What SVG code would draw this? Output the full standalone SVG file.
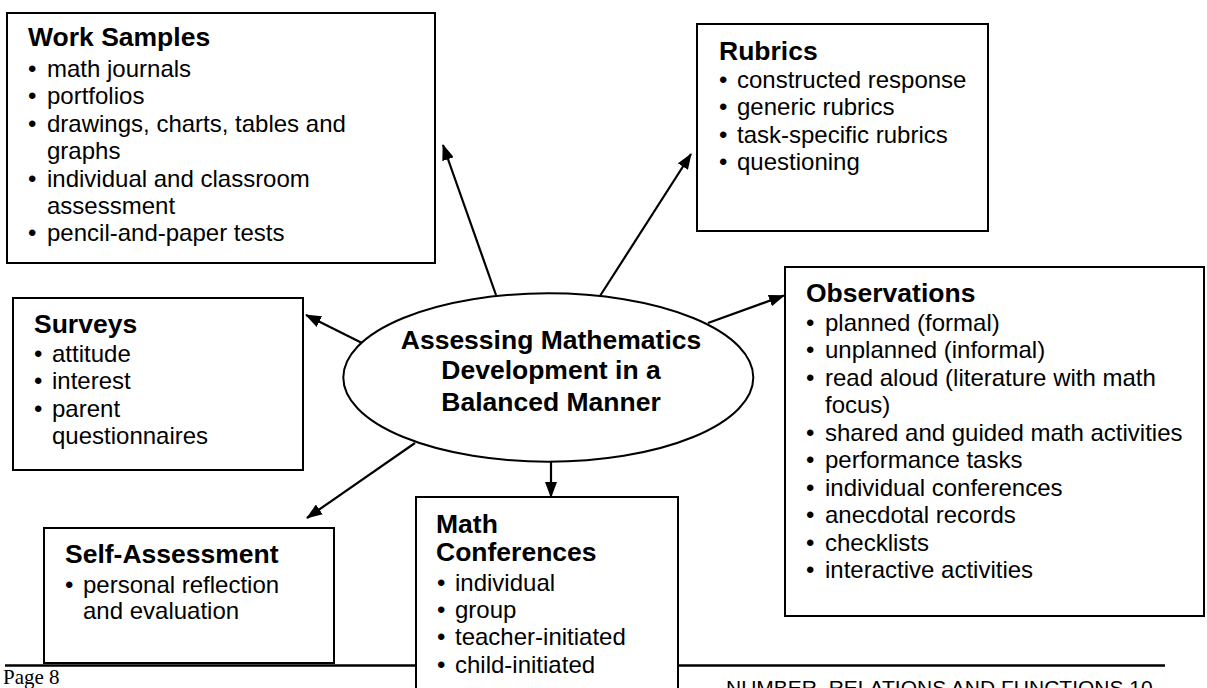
<svg xmlns="http://www.w3.org/2000/svg" width="1207" height="688" viewBox="0 0 1207 688">
<style>
.box{fill:#fff;stroke:#000;stroke-width:2}
.t{font-family:"Liberation Sans",Arial,sans-serif;font-size:24px;fill:#000}
.h{font-family:"Liberation Sans",Arial,sans-serif;font-size:26.5px;font-weight:bold;fill:#000}
.c{text-anchor:middle}
.con line{stroke:#000;stroke-width:2.2;marker-end:url(#ah)}
.foot{stroke:#000;stroke-width:2.5}
</style>
<defs>
<marker id="ah" markerUnits="userSpaceOnUse" markerWidth="16" markerHeight="12" refX="15" refY="6" orient="auto">
<path d="M0,0 L16,6 L0,12 z" fill="#000"/>
</marker>
</defs>
<rect width="1207" height="688" fill="#fff"/>

<g id="work-samples">
<rect class="box" x="7" y="13" width="428" height="250"/>
<text class="h" x="28" y="46">Work Samples</text>
<g class="t">
<text x="28" y="77">•</text><text x="47" y="77">math journals</text>
<text x="28" y="104.4">•</text><text x="47" y="104.4">portfolios</text>
<text x="28" y="131.8">•</text><text x="47" y="131.8">drawings, charts, tables and</text>
<text x="47" y="159.2">graphs</text>
<text x="28" y="186.6">•</text><text x="47" y="186.6">individual and classroom</text>
<text x="47" y="214">assessment</text>
<text x="28" y="241.4">•</text><text x="47" y="241.4">pencil-and-paper tests</text>
</g>
</g>

<g id="rubrics">
<rect class="box" x="697" y="24" width="291" height="207"/>
<text class="h" x="719" y="60">Rubrics</text>
<g class="t">
<text x="719" y="88">•</text><text x="737" y="88">constructed response</text>
<text x="719" y="115.4">•</text><text x="737" y="115.4">generic rubrics</text>
<text x="719" y="142.8">•</text><text x="737" y="142.8">task-specific rubrics</text>
<text x="719" y="170.2">•</text><text x="737" y="170.2">questioning</text>
</g>
</g>

<g id="surveys">
<rect class="box" x="13" y="298" width="290" height="172"/>
<text class="h" x="34" y="333">Surveys</text>
<g class="t">
<text x="34" y="361.7">•</text><text x="52" y="361.7">attitude</text>
<text x="34" y="389.1">•</text><text x="52" y="389.1">interest</text>
<text x="34" y="416.5">•</text><text x="52" y="416.5">parent</text>
<text x="52" y="443.9">questionnaires</text>
</g>
</g>

<g id="observations">
<rect class="box" x="785" y="267" width="419" height="349"/>
<text class="h" x="806" y="302">Observations</text>
<g class="t">
<text x="806" y="330.5">•</text><text x="825" y="330.5">planned (formal)</text>
<text x="806" y="358">•</text><text x="825" y="358">unplanned (informal)</text>
<text x="806" y="385.5">•</text><text x="825" y="385.5">read aloud (literature with math</text>
<text x="825" y="413">focus)</text>
<text x="806" y="440.5">•</text><text x="825" y="440.5">shared and guided math activities</text>
<text x="806" y="468">•</text><text x="825" y="468">performance tasks</text>
<text x="806" y="495.5">•</text><text x="825" y="495.5">individual conferences</text>
<text x="806" y="523">•</text><text x="825" y="523">anecdotal records</text>
<text x="806" y="550.5">•</text><text x="825" y="550.5">checklists</text>
<text x="806" y="578">•</text><text x="825" y="578">interactive activities</text>
</g>
</g>

<g id="self-assessment">
<rect class="box" x="44" y="528" width="290" height="135"/>
<text class="h" x="65" y="563">Self-Assessment</text>
<g class="t">
<text x="65" y="592.5">•</text><text x="83" y="592.5">personal reflection</text>
<text x="83" y="619">and evaluation</text>
</g>
</g>

<g id="math-conferences">
<rect class="box" x="416" y="497" width="262" height="200"/>
<text class="h" x="436" y="532.5">Math</text>
<text class="h" x="436" y="560.5">Conferences</text>
<g class="t">
<text x="437" y="590.5">•</text><text x="455" y="590.5">individual</text>
<text x="437" y="617.5">•</text><text x="455" y="617.5">group</text>
<text x="437" y="645">•</text><text x="455" y="645">teacher-initiated</text>
<text x="437" y="672.5">•</text><text x="455" y="672.5">child-initiated</text>
</g>
</g>

<g id="connectors" class="con">
<line x1="496" y1="295" x2="443" y2="145"/>
<line x1="600" y1="296" x2="691" y2="154"/>
<line x1="362" y1="343" x2="306" y2="315"/>
<line x1="708" y1="323" x2="784" y2="295.5"/>
<line x1="415" y1="443" x2="307" y2="518"/>
<line x1="551" y1="462" x2="551" y2="497"/>
</g>

<g id="center">
<ellipse cx="548.3" cy="377.5" rx="205" ry="84.2" fill="#fff" stroke="#000" stroke-width="2"/>
<text class="h c" x="551" y="348.5">Assessing Mathematics</text>
<text class="h c" x="551" y="379">Development in a</text>
<text class="h c" x="551" y="410.5">Balanced Manner</text>
</g>

<g id="footer">
<line class="foot" x1="5" y1="665.5" x2="416" y2="665.5"/>
<line class="foot" x1="678" y1="665.5" x2="1165" y2="665.5"/>
<text x="3" y="684" font-family="Liberation Serif,Times New Roman,serif" font-size="21">Page 8</text>
<text x="726" y="695" font-family="Liberation Sans,Arial,sans-serif" font-size="21">NUMBER, RELATIONS AND FUNCTIONS 10</text>
</g>
</svg>
